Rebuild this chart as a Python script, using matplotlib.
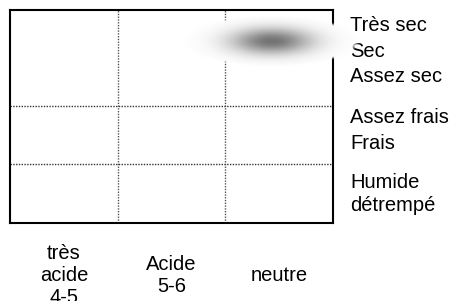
import numpy as np
import matplotlib
matplotlib.use("Agg")
import matplotlib.pyplot as plt

plt.rcParams["font.family"] = ["Liberation Sans", "DejaVu Sans"]

# --- données ---------------------------------------------------------------
ph_labels = ["très\nacide\n4-5", "Acide\n5-6", "neutre"]
ph_centers = [0.5, 1.5, 2.5]
col_breaks = [1, 2]

moisture_labels = ["Très sec", "Sec", "Assez sec", "Assez frais", "Frais",
                   "Humide", "détrempé"]
moisture_y = [6.32, 5.47, 4.64, 3.29, 2.43, 1.15, 0.39]   # lignes de base
row_breaks = [1.94, 3.84]

# tache floue (optimum) : centre, écart-type, demi-axes du halo
blob_x, blob_y = 2.43, 5.98
blob_sx, blob_sy = 0.26, 0.3
halo_a, halo_b = 0.82, 0.84
blob_depth = 0.55

fig = plt.figure(figsize=(4.52, 3.01), dpi=100)
ax = fig.add_axes([10 / 452, 78 / 301, 323 / 452, 213 / 301])
ax.set_xlim(0, 3)
ax.set_ylim(0, 7)
ax.set_xticks([]); ax.set_yticks([])
for sp in ax.spines.values():
    sp.set_linewidth(1.5); sp.set_color("black")

for x in col_breaks:
    ax.axvline(x, color="#555555", lw=1.0, ls=(0, (1, 1)))
for y in row_breaks:
    ax.axhline(y, color="#333333", lw=1.0, ls=(0, (1, 1)))

for lab, y in zip(moisture_labels, moisture_y):
    ax.text(3.16, y, lab, ha="left", va="baseline", fontsize=14.5, clip_on=False)

for lab, x in zip(ph_labels, ph_centers):
    ax.text(x, -1.72, lab, ha="center", va="center", fontsize=14.5,
            linespacing=1.2, clip_on=False)

# tache : dégradé gris sur halo blanc opaque
x0, x1, y0, y1 = 1.55, 3.35, 4.9, 7.0
gx = np.linspace(x0, x1, 300)
gy = np.linspace(y1, y0, 150)
X, Y = np.meshgrid(gx, gy)
dx, dy = X - blob_x, Y - blob_y
g = 1 - blob_depth * np.exp(-0.5 * ((dx / blob_sx) ** 2 + (dy / blob_sy) ** 2))
e = (dx / halo_a) ** 2 + (dy / halo_b) ** 2
alpha = np.clip((1 - e) / 0.15, 0, 1)
img = np.dstack([g, g, g, alpha])
ax.imshow(img, extent=(x0, x1, y0, y1), aspect="auto", zorder=5,
          interpolation="bilinear", clip_on=False)
ax.set_xlim(0, 3); ax.set_ylim(0, 7)

fig.savefig("out.png", dpi=100)
